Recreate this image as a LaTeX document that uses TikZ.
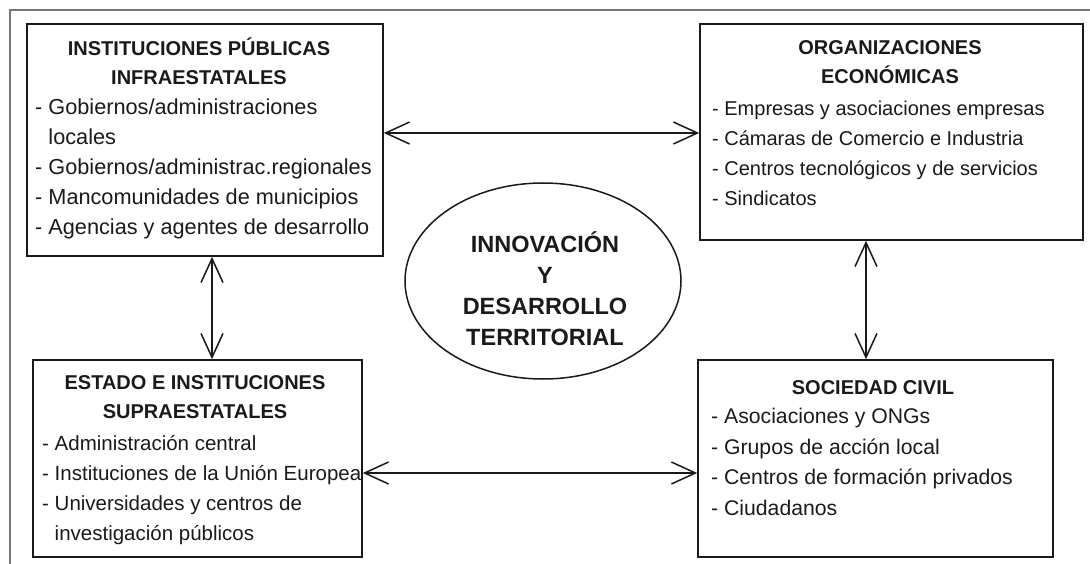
\documentclass[tikz,border=0pt]{standalone}
\usepackage{fontspec}
\setmainfont{Liberation Sans}
\usetikzlibrary{arrows.meta,shapes.geometric}
\definecolor{ink}{HTML}{1A1A1A}
\definecolor{frame}{HTML}{777777}
\tikzset{
  box/.style={draw=ink, line width=1.6pt, rectangle, inner sep=0pt},
  ttl/.style={align=center, inner sep=0pt, text=ink, font=\fontsize{20}{28.5}\selectfont\bfseries},
  body/.style={align=left, inner sep=0pt, anchor=north west, text=ink},
  link/.style={draw=ink, line width=1.5pt, {Straight Barb[length=24pt,width=22pt,line width=1.5pt]}-{Straight Barb[length=24pt,width=22pt,line width=1.5pt]}},
}
\begin{document}
\begin{tikzpicture}[x=1pt,y=-1pt]
\useasboundingbox (0,0) rectangle (1090,564);
% outer frame (partial)
\coordinate (fa) at (10,564);
\coordinate (fb) at (10,10);
\coordinate (fc) at (1090,10);
\draw[frame, line width=2pt] (fa) -- (fb) -- (fc);

% boxes
\node[box, minimum width=356pt, minimum height=232pt] (tl) at (205,140) {};
\node[box, minimum width=383pt, minimum height=216pt] (tr) at (891.5,132) {};
\node[box, minimum width=329pt, minimum height=197pt] (bl) at (197.5,458.5) {};
\node[box, minimum width=355pt, minimum height=197pt] (br) at (875.5,458.5) {};

% ellipse
\node[draw=ink, line width=1.5pt, ellipse, minimum width=276pt, minimum height=196pt, inner sep=0pt] (el) at (543,281) {};
\node[align=center, inner sep=0pt, text=ink, font=\fontsize{23.5}{31}\selectfont\bfseries] (elt) at (545,289)
  {INNOVACIÓN\\Y\\DESARROLLO\\TERRITORIAL};

% titles
\node[ttl] (tlt) at (199,61) {INSTITUCIONES PÚBLICAS\\INFRAESTATALES};
\node[ttl] (trt) at (890,62) {ORGANIZACIONES\\ECONÓMICAS};
\node[ttl] (blt) at (195,397) {ESTADO E INSTITUCIONES\\SUPRAESTATALES};
\node[ttl] (brt) at (873,388) {SOCIEDAD CIVIL};

% bodies
\node[body, font=\fontsize{21.7}{30}\selectfont] (tlb) at (35,99) {- Gobiernos/administraciones\\\phantom{- }locales\\- Gobiernos/administrac.regionales\\- Mancomunidades de municipios\\- Agencias y agentes de desarrollo};
\node[body, font=\fontsize{20}{30}\selectfont] (trb) at (712,101) {- Empresas y asociaciones empresas\\- Cámaras de Comercio e Industria\\- Centros tecnológicos y de servicios\\- Sindicatos};
\node[body, font=\fontsize{20.5}{30}\selectfont] (blb) at (42,435) {- Administración central\\- Instituciones de la Unión Europea\\- Universidades y centros de\\\phantom{- }investigación públicos};
\node[body, font=\fontsize{21.2}{30.5}\selectfont] (brb) at (711,408) {- Asociaciones y ONGs\\- Grupos de acción local\\- Centros de formación privados\\- Ciudadanos};

% connectors
\coordinate (h1) at (0,133);
\coordinate (h2) at (0,473);
\coordinate (v1) at (212,0);
\coordinate (v2) at (866,0);
\draw[link] (tl.east |- h1) -- (tr.west |- h1);
\draw[link] (bl.east |- h2) -- (br.west |- h2);
\draw[link] (v1 |- tl.south) -- (v1 |- bl.north);
\draw[link] (v2 |- tr.south) -- (v2 |- br.north);
\end{tikzpicture}
\end{document}
